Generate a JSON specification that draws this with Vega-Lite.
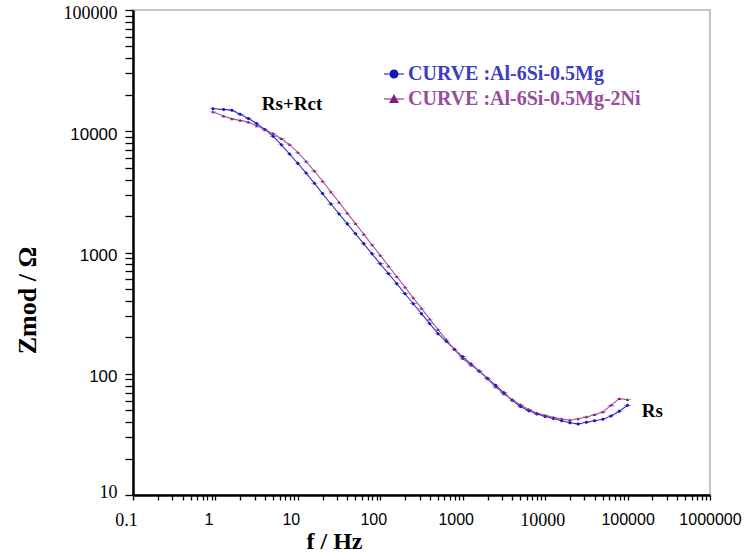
{
  "$schema": "https://vega.github.io/schema/vega-lite/v6.json",
  "width": 577,
  "height": 485,
  "autosize": "none",
  "padding": {"left": 133, "top": 10, "right": 36, "bottom": 58},
  "background": "white",
  "config": {"view": {"stroke": "#b4b4b4", "strokeWidth": 1.5}},
  "data": {"values": [
    {"s": "CURVE :Al-6Si-0.5Mg", "f": 0.93, "Z": 15310},
    {"s": "CURVE :Al-6Si-0.5Mg", "f": 1.259, "Z": 15140},
    {"s": "CURVE :Al-6Si-0.5Mg", "f": 1.585, "Z": 14930},
    {"s": "CURVE :Al-6Si-0.5Mg", "f": 1.995, "Z": 13800},
    {"s": "CURVE :Al-6Si-0.5Mg", "f": 2.512, "Z": 12735},
    {"s": "CURVE :Al-6Si-0.5Mg", "f": 3.162, "Z": 11610},
    {"s": "CURVE :Al-6Si-0.5Mg", "f": 3.981, "Z": 10350},
    {"s": "CURVE :Al-6Si-0.5Mg", "f": 5.012, "Z": 9100},
    {"s": "CURVE :Al-6Si-0.5Mg", "f": 6.31, "Z": 7727},
    {"s": "CURVE :Al-6Si-0.5Mg", "f": 7.943, "Z": 6486},
    {"s": "CURVE :Al-6Si-0.5Mg", "f": 10, "Z": 5433},
    {"s": "CURVE :Al-6Si-0.5Mg", "f": 12.59, "Z": 4519},
    {"s": "CURVE :Al-6Si-0.5Mg", "f": 15.85, "Z": 3733},
    {"s": "CURVE :Al-6Si-0.5Mg", "f": 19.95, "Z": 3062},
    {"s": "CURVE :Al-6Si-0.5Mg", "f": 25.12, "Z": 2512},
    {"s": "CURVE :Al-6Si-0.5Mg", "f": 31.62, "Z": 2080},
    {"s": "CURVE :Al-6Si-0.5Mg", "f": 39.81, "Z": 1722},
    {"s": "CURVE :Al-6Si-0.5Mg", "f": 50.12, "Z": 1426},
    {"s": "CURVE :Al-6Si-0.5Mg", "f": 63.1, "Z": 1178},
    {"s": "CURVE :Al-6Si-0.5Mg", "f": 79.43, "Z": 975},
    {"s": "CURVE :Al-6Si-0.5Mg", "f": 100, "Z": 807},
    {"s": "CURVE :Al-6Si-0.5Mg", "f": 125.9, "Z": 668},
    {"s": "CURVE :Al-6Si-0.5Mg", "f": 158.5, "Z": 553},
    {"s": "CURVE :Al-6Si-0.5Mg", "f": 199.5, "Z": 457},
    {"s": "CURVE :Al-6Si-0.5Mg", "f": 251.2, "Z": 378},
    {"s": "CURVE :Al-6Si-0.5Mg", "f": 316.2, "Z": 313},
    {"s": "CURVE :Al-6Si-0.5Mg", "f": 398.1, "Z": 259},
    {"s": "CURVE :Al-6Si-0.5Mg", "f": 501.2, "Z": 214},
    {"s": "CURVE :Al-6Si-0.5Mg", "f": 631, "Z": 185},
    {"s": "CURVE :Al-6Si-0.5Mg", "f": 794.3, "Z": 159},
    {"s": "CURVE :Al-6Si-0.5Mg", "f": 1000, "Z": 138},
    {"s": "CURVE :Al-6Si-0.5Mg", "f": 1259, "Z": 120.5},
    {"s": "CURVE :Al-6Si-0.5Mg", "f": 1585, "Z": 105.4},
    {"s": "CURVE :Al-6Si-0.5Mg", "f": 1995, "Z": 91.8},
    {"s": "CURVE :Al-6Si-0.5Mg", "f": 2512, "Z": 80.2},
    {"s": "CURVE :Al-6Si-0.5Mg", "f": 3162, "Z": 69.7},
    {"s": "CURVE :Al-6Si-0.5Mg", "f": 3981, "Z": 60.4},
    {"s": "CURVE :Al-6Si-0.5Mg", "f": 5012, "Z": 53.7},
    {"s": "CURVE :Al-6Si-0.5Mg", "f": 6310, "Z": 49.5},
    {"s": "CURVE :Al-6Si-0.5Mg", "f": 7943, "Z": 46.6},
    {"s": "CURVE :Al-6Si-0.5Mg", "f": 10000, "Z": 44.5},
    {"s": "CURVE :Al-6Si-0.5Mg", "f": 12590, "Z": 42.7},
    {"s": "CURVE :Al-6Si-0.5Mg", "f": 15850, "Z": 41.0},
    {"s": "CURVE :Al-6Si-0.5Mg", "f": 19950, "Z": 39.4},
    {"s": "CURVE :Al-6Si-0.5Mg", "f": 25120, "Z": 38.5},
    {"s": "CURVE :Al-6Si-0.5Mg", "f": 31620, "Z": 39.8},
    {"s": "CURVE :Al-6Si-0.5Mg", "f": 39810, "Z": 40.9},
    {"s": "CURVE :Al-6Si-0.5Mg", "f": 50120, "Z": 42.2},
    {"s": "CURVE :Al-6Si-0.5Mg", "f": 63100, "Z": 44.9},
    {"s": "CURVE :Al-6Si-0.5Mg", "f": 79430, "Z": 49.0},
    {"s": "CURVE :Al-6Si-0.5Mg", "f": 100000, "Z": 55.0},
    {"s": "CURVE :Al-6Si-0.5Mg-2Ni", "f": 0.93, "Z": 14450},
    {"s": "CURVE :Al-6Si-0.5Mg-2Ni", "f": 1.259, "Z": 13340},
    {"s": "CURVE :Al-6Si-0.5Mg-2Ni", "f": 1.585, "Z": 12650},
    {"s": "CURVE :Al-6Si-0.5Mg-2Ni", "f": 1.995, "Z": 12300},
    {"s": "CURVE :Al-6Si-0.5Mg-2Ni", "f": 2.512, "Z": 11890},
    {"s": "CURVE :Al-6Si-0.5Mg-2Ni", "f": 3.162, "Z": 11090},
    {"s": "CURVE :Al-6Si-0.5Mg-2Ni", "f": 3.981, "Z": 10280},
    {"s": "CURVE :Al-6Si-0.5Mg-2Ni", "f": 5.012, "Z": 9594},
    {"s": "CURVE :Al-6Si-0.5Mg-2Ni", "f": 6.31, "Z": 8670},
    {"s": "CURVE :Al-6Si-0.5Mg-2Ni", "f": 7.943, "Z": 7745},
    {"s": "CURVE :Al-6Si-0.5Mg-2Ni", "f": 10, "Z": 6699},
    {"s": "CURVE :Al-6Si-0.5Mg-2Ni", "f": 12.59, "Z": 5649},
    {"s": "CURVE :Al-6Si-0.5Mg-2Ni", "f": 15.85, "Z": 4699},
    {"s": "CURVE :Al-6Si-0.5Mg-2Ni", "f": 19.95, "Z": 3873},
    {"s": "CURVE :Al-6Si-0.5Mg-2Ni", "f": 25.12, "Z": 3162},
    {"s": "CURVE :Al-6Si-0.5Mg-2Ni", "f": 31.62, "Z": 2588},
    {"s": "CURVE :Al-6Si-0.5Mg-2Ni", "f": 39.81, "Z": 2113},
    {"s": "CURVE :Al-6Si-0.5Mg-2Ni", "f": 50.12, "Z": 1730},
    {"s": "CURVE :Al-6Si-0.5Mg-2Ni", "f": 63.1, "Z": 1413},
    {"s": "CURVE :Al-6Si-0.5Mg-2Ni", "f": 79.43, "Z": 1156},
    {"s": "CURVE :Al-6Si-0.5Mg-2Ni", "f": 100, "Z": 946},
    {"s": "CURVE :Al-6Si-0.5Mg-2Ni", "f": 125.9, "Z": 773},
    {"s": "CURVE :Al-6Si-0.5Mg-2Ni", "f": 158.5, "Z": 632},
    {"s": "CURVE :Al-6Si-0.5Mg-2Ni", "f": 199.5, "Z": 518},
    {"s": "CURVE :Al-6Si-0.5Mg-2Ni", "f": 251.2, "Z": 423},
    {"s": "CURVE :Al-6Si-0.5Mg-2Ni", "f": 316.2, "Z": 346},
    {"s": "CURVE :Al-6Si-0.5Mg-2Ni", "f": 398.1, "Z": 282},
    {"s": "CURVE :Al-6Si-0.5Mg-2Ni", "f": 501.2, "Z": 231},
    {"s": "CURVE :Al-6Si-0.5Mg-2Ni", "f": 631, "Z": 191},
    {"s": "CURVE :Al-6Si-0.5Mg-2Ni", "f": 794.3, "Z": 158},
    {"s": "CURVE :Al-6Si-0.5Mg-2Ni", "f": 1000, "Z": 133},
    {"s": "CURVE :Al-6Si-0.5Mg-2Ni", "f": 1259, "Z": 118},
    {"s": "CURVE :Al-6Si-0.5Mg-2Ni", "f": 1585, "Z": 105},
    {"s": "CURVE :Al-6Si-0.5Mg-2Ni", "f": 1995, "Z": 90.6},
    {"s": "CURVE :Al-6Si-0.5Mg-2Ni", "f": 2512, "Z": 77.8},
    {"s": "CURVE :Al-6Si-0.5Mg-2Ni", "f": 3162, "Z": 68.1},
    {"s": "CURVE :Al-6Si-0.5Mg-2Ni", "f": 3981, "Z": 61.2},
    {"s": "CURVE :Al-6Si-0.5Mg-2Ni", "f": 5012, "Z": 55.5},
    {"s": "CURVE :Al-6Si-0.5Mg-2Ni", "f": 6310, "Z": 50.7},
    {"s": "CURVE :Al-6Si-0.5Mg-2Ni", "f": 7943, "Z": 47.4},
    {"s": "CURVE :Al-6Si-0.5Mg-2Ni", "f": 10000, "Z": 45.4},
    {"s": "CURVE :Al-6Si-0.5Mg-2Ni", "f": 12590, "Z": 43.7},
    {"s": "CURVE :Al-6Si-0.5Mg-2Ni", "f": 15850, "Z": 42.4},
    {"s": "CURVE :Al-6Si-0.5Mg-2Ni", "f": 19950, "Z": 41.5},
    {"s": "CURVE :Al-6Si-0.5Mg-2Ni", "f": 25120, "Z": 42.5},
    {"s": "CURVE :Al-6Si-0.5Mg-2Ni", "f": 31620, "Z": 44.0},
    {"s": "CURVE :Al-6Si-0.5Mg-2Ni", "f": 39810, "Z": 45.9},
    {"s": "CURVE :Al-6Si-0.5Mg-2Ni", "f": 50120, "Z": 48.4},
    {"s": "CURVE :Al-6Si-0.5Mg-2Ni", "f": 63100, "Z": 55.0},
    {"s": "CURVE :Al-6Si-0.5Mg-2Ni", "f": 79430, "Z": 62.4},
    {"s": "CURVE :Al-6Si-0.5Mg-2Ni", "f": 100000, "Z": 61.0}
  ]},
  "layer": [
    {
      "mark": {"type": "line", "strokeWidth": 1.1},
      "encoding": {
        "x": {
          "field": "f", "type": "quantitative", "title": "f / Hz",
          "scale": {"type": "log", "domain": [0.1, 1000000], "nice": false},
          "axis": {
            "values": [0.1,0.2,0.3,0.4,0.5,0.6,0.7,0.8,0.9,1,2,3,4,5,6,7,8,9,10,20,30,40,50,60,70,80,90,100,200,300,400,500,600,700,800,900,1000,2000,3000,4000,5000,6000,7000,8000,9000,10000,20000,30000,40000,50000,60000,70000,80000,90000,100000,200000,300000,400000,500000,600000,700000,800000,900000,1000000],
            "labelExpr": "indexof([0.1,1,10,100,1000,10000,100000,1000000], datum.value) >= 0 ? '' + datum.value : ''",
            "grid": false,
            "domainColor": "black", "domainWidth": 2.5,
            "tickColor": "black", "tickWidth": 1.3, "tickSize": 5,
            "labelPadding": 11, "labelColor": "black",
            "labelOverlap": false, "labelFlush": false, "labelBound": false,
            "labelFont": {"condition": {"test": "datum.value == 0.1 || datum.value == 10000", "value": "Liberation Serif"}, "value": "Liberation Sans"},
            "labelFontSize": {"condition": {"test": "datum.value == 0.1 || datum.value == 10000", "value": 18}, "value": 16},
            "labelOffset": {"condition": [{"test": "datum.value <= 1000", "value": -7}, {"test": "datum.value == 10000", "value": -3}], "value": 0},
            "titleFont": "Liberation Serif", "titleFontWeight": "bold", "titleFontSize": 24, "titleColor": "black",
            "titleX": 201, "titleY": 46, "titleBaseline": "middle", "titleAlign": "center"
          }
        },
        "y": {
          "field": "Z", "type": "quantitative", "title": "Zmod / Ω",
          "scale": {"type": "log", "domain": [10, 100000], "nice": false},
          "axis": {
            "values": [10,20,30,40,50,60,70,80,90,100,200,300,400,500,600,700,800,900,1000,2000,3000,4000,5000,6000,7000,8000,9000,10000,20000,30000,40000,50000,60000,70000,80000,90000,100000],
            "labelExpr": "indexof([10,100,1000,10000,100000], datum.value) >= 0 ? '' + datum.value : ''",
            "grid": false,
            "domainColor": "black", "domainWidth": 2.5,
            "tickColor": "black", "tickWidth": 1.3, "tickSize": 8,
            "labelPadding": 8, "labelColor": "black",
            "labelOverlap": false, "labelFlush": false, "labelBound": false,
            "labelFont": {"condition": {"test": "datum.value == 10 || datum.value == 100000", "value": "Liberation Serif"}, "value": "Liberation Sans"},
            "labelFontSize": {"condition": {"test": "datum.value == 10 || datum.value == 100000", "value": 18}, "value": 17},
            "labelOffset": {"condition": {"test": "datum.value == 10", "value": -3}, "value": 3},
            "titleFont": "Liberation Serif", "titleFontWeight": "bold", "titleFontSize": 26, "titleColor": "black",
            "titleAngle": 270, "titleX": -106, "titleY": 290, "titleBaseline": "middle", "titleAlign": "center"
          }
        },
        "stroke": {
          "field": "s", "type": "nominal",
          "scale": {"range": ["#3535b5", "#a45ca4"]},
          "legend": null
        }
      }
    },
    {
      "mark": {"type": "point", "filled": true, "opacity": 1, "size": 45},
      "encoding": {
        "x": {"field": "f", "type": "quantitative"},
        "y": {"field": "Z", "type": "quantitative"},
        "color": {
          "field": "s", "type": "nominal",
          "scale": {"domain": ["CURVE :Al-6Si-0.5Mg", "CURVE :Al-6Si-0.5Mg-2Ni"], "range": ["#1212c0", "#7e1e7e"]},
          "legend": {
            "orient": "none", "legendX": 250, "legendY": 53, "title": null,
            "symbolSize": 400,
            "labelFont": "Liberation Serif", "labelFontWeight": "bold", "labelFontSize": 20,
            "labelOffset": 3, "rowPadding": 4, "labelLimit": 400,
            "labelColor": {"expr": "datum.value === 'CURVE :Al-6Si-0.5Mg' ? '#3d3dc2' : '#9a4c9e'"}
          }
        },
        "shape": {
          "field": "s", "type": "nominal",
          "scale": {"domain": ["CURVE :Al-6Si-0.5Mg", "CURVE :Al-6Si-0.5Mg-2Ni"], "range": ["M-1,-0.05L1,-0.05L1,0.05L-1,0.05Z M0.45,0A0.45,0.45 0 1,1 -0.45,0A0.45,0.45 0 1,1 0.45,0Z", "M-1,-0.05L1,-0.05L1,0.05L-1,0.05Z M0,-0.5L0.5,0.4L-0.5,0.4Z"]}
        }
      }
    },
    {
      "data": {"values": [
        {"f": 8.5, "Z": 16700, "t": "Rs+Rct"},
        {"f": 199500, "Z": 49.4, "t": "Rs"}
      ]},
      "mark": {"type": "text", "font": "Liberation Serif", "fontWeight": "bold", "fontSize": 19, "color": "black", "align": "center", "baseline": "middle"},
      "encoding": {
        "x": {"field": "f", "type": "quantitative"},
        "y": {"field": "Z", "type": "quantitative"},
        "text": {"field": "t"}
      }
    }
  ]
}
